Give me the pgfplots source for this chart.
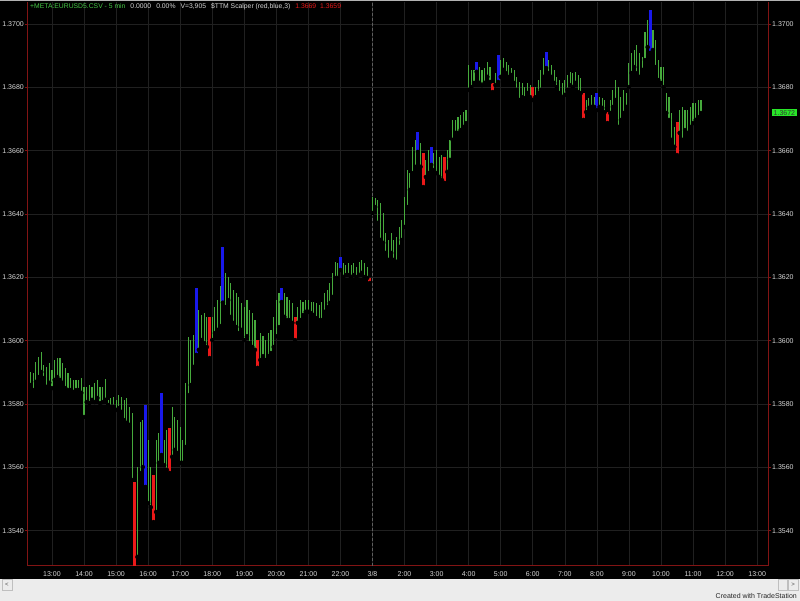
\documentclass[border=0pt]{standalone}
\usepackage{fontspec}
\setmainfont{Liberation Sans}
\usepackage{pgfplots}
\pgfplotsset{compat=1.18}
\usepackage{pgfplotstable}

\definecolor{bargreen}{RGB}{70,170,60}
\definecolor{barred}{RGB}{235,25,25}
\definecolor{barblue}{RGB}{25,25,235}
\definecolor{axisred}{RGB}{130,20,20}
\definecolor{gridgray}{RGB}{32,32,32}
\definecolor{sessiongray}{RGB}{95,95,95}
\definecolor{labelgray}{RGB}{215,215,215}
\definecolor{titlegreen}{RGB}{70,200,70}
\definecolor{markgreen}{RGB}{40,230,40}
\definecolor{stripgray}{RGB}{236,236,236}

% 5 min bars: k = bar number, lo/hi = bar low/high
\pgfplotstableread{
k lo hi
0 1.35860 1.35901
1 1.35844 1.35898
2 1.35870 1.35933
3 1.35885 1.35948
4 1.35901 1.35964
5 1.35882 1.35923
6 1.35854 1.35917
7 1.35867 1.35930
8 1.35850 1.35907
9 1.35876 1.35939
10 1.35885 1.35945
11 1.35876 1.35945
12 1.35867 1.35930
13 1.35850 1.35914
14 1.35844 1.35898
15 1.35844 1.35882
16 1.35838 1.35876
17 1.35844 1.35876
18 1.35844 1.35876
19 1.35835 1.35882
20 1.35759 1.35854
21 1.35806 1.35854
22 1.35803 1.35860
23 1.35813 1.35854
24 1.35806 1.35866
25 1.35819 1.35876
26 1.35803 1.35854
27 1.35806 1.35854
28 1.35813 1.35879
29 1.35797 1.35813
30 1.35791 1.35819
31 1.35791 1.35822
32 1.35781 1.35813
33 1.35787 1.35828
34 1.35775 1.35822
35 1.35749 1.35813
36 1.35740 1.35819
37 1.35734 1.35791
38 1.35560 1.35772
40 1.35317 1.35601
41 1.35582 1.35743
42 1.35601 1.35749
44 1.35487 1.35686
45 1.35474 1.35601
47 1.35459 1.35686
48 1.35614 1.35708
50 1.35607 1.35686
51 1.35592 1.35718
53 1.35633 1.35791
54 1.35655 1.35759
55 1.35645 1.35749
56 1.35614 1.35727
57 1.35614 1.35686
58 1.35664 1.35866
59 1.35828 1.36012
60 1.35860 1.36002
61 1.35917 1.36018
63 1.35971 1.36097
64 1.36002 1.36081
65 1.35992 1.36087
66 1.35980 1.36075
68 1.36002 1.36075
69 1.36024 1.36106
70 1.36034 1.36128
71 1.36046 1.36172
73 1.36106 1.36214
74 1.36128 1.36201
75 1.36075 1.36182
76 1.36056 1.36160
77 1.36043 1.36150
78 1.36024 1.36138
79 1.36034 1.36119
80 1.36002 1.36106
81 1.36014 1.36128
82 1.35992 1.36097
83 1.35980 1.36087
84 1.35971 1.36065
86 1.35939 1.36024
87 1.35951 1.36014
88 1.35939 1.36002
89 1.35951 1.36024
90 1.35961 1.36034
91 1.35980 1.36075
92 1.36014 1.36128
93 1.36043 1.36150
95 1.36075 1.36150
96 1.36065 1.36138
97 1.36065 1.36128
98 1.36056 1.36119
100 1.36056 1.36106
101 1.36065 1.36128
102 1.36081 1.36122
103 1.36091 1.36128
104 1.36091 1.36128
105 1.36087 1.36122
106 1.36081 1.36122
107 1.36071 1.36119
108 1.36065 1.36113
109 1.36065 1.36122
110 1.36091 1.36150
111 1.36106 1.36160
112 1.36119 1.36182
113 1.36138 1.36214
114 1.36198 1.36249
115 1.36198 1.36245
117 1.36201 1.36245
118 1.36207 1.36239
119 1.36207 1.36245
120 1.36201 1.36239
121 1.36207 1.36245
122 1.36201 1.36233
123 1.36207 1.36249
124 1.36214 1.36255
125 1.36201 1.36245
126 1.36198 1.36233
128 1.36403 1.36454
129 1.36422 1.36451
130 1.36372 1.36444
131 1.36318 1.36435
132 1.36309 1.36403
133 1.36277 1.36340
134 1.36255 1.36318
135 1.36277 1.36340
136 1.36255 1.36318
137 1.36249 1.36328
138 1.36296 1.36359
139 1.36318 1.36381
140 1.36359 1.36454
141 1.36422 1.36539
142 1.36476 1.36529
143 1.36529 1.36612
144 1.36549 1.36634
146 1.36549 1.36624
148 1.36517 1.36571
149 1.36529 1.36602
151 1.36539 1.36593
152 1.36529 1.36602
153 1.36517 1.36580
154 1.36507 1.36586
156 1.36533 1.36602
157 1.36571 1.36634
158 1.36634 1.36697
159 1.36656 1.36697
160 1.36656 1.36706
161 1.36665 1.36713
162 1.36675 1.36722
163 1.36687 1.36728
164 1.36792 1.36871
165 1.36801 1.36855
166 1.36814 1.36855
168 1.36814 1.36864
169 1.36807 1.36855
170 1.36814 1.36861
171 1.36833 1.36880
172 1.36817 1.36864
174 1.36807 1.36845
176 1.36833 1.36886
177 1.36855 1.36893
178 1.36845 1.36880
179 1.36833 1.36871
180 1.36839 1.36861
181 1.36814 1.36855
182 1.36792 1.36833
183 1.36760 1.36817
184 1.36769 1.36814
185 1.36766 1.36801
186 1.36782 1.36814
187 1.36769 1.36807
189 1.36769 1.36801
190 1.36782 1.36823
191 1.36792 1.36855
192 1.36833 1.36893
194 1.36845 1.36886
195 1.36833 1.36871
196 1.36814 1.36855
197 1.36801 1.36833
198 1.36782 1.36823
199 1.36769 1.36814
200 1.36776 1.36823
201 1.36792 1.36839
202 1.36807 1.36848
203 1.36801 1.36845
204 1.36814 1.36848
205 1.36785 1.36839
206 1.36782 1.36829
208 1.36722 1.36760
209 1.36735 1.36766
210 1.36738 1.36776
211 1.36738 1.36769
213 1.36738 1.36769
214 1.36735 1.36766
215 1.36722 1.36760
217 1.36719 1.36760
218 1.36738 1.36792
219 1.36760 1.36823
220 1.36675 1.36801
221 1.36697 1.36769
222 1.36719 1.36792
223 1.36738 1.36782
224 1.36801 1.36877
225 1.36845 1.36909
226 1.36864 1.36918
227 1.36845 1.36934
228 1.36833 1.36909
229 1.36855 1.36896
230 1.36886 1.36975
231 1.36927 1.37013
233 1.36918 1.36981
234 1.36864 1.36949
235 1.36823 1.36886
236 1.36814 1.36864
237 1.36801 1.36864
238 1.36719 1.36782
239 1.36697 1.36769
240 1.36634 1.36719
241 1.36612 1.36675
243 1.36656 1.36728
244 1.36634 1.36738
245 1.36665 1.36728
246 1.36656 1.36728
247 1.36675 1.36738
248 1.36687 1.36751
249 1.36697 1.36751
250 1.36706 1.36760
251 1.36719 1.36760
}\greenbars

\pgfplotstableread{
k lo hi
39 1.35285 1.35554
46 1.35427 1.35576
52 1.35582 1.35724
67 1.35945 1.36075
85 1.35914 1.36002
99 1.36002 1.36075
127 1.36182 1.36198
147 1.36485 1.36593
155 1.36498 1.36580
173 1.36785 1.36814
188 1.36760 1.36801
207 1.36697 1.36782
216 1.36687 1.36722
242 1.36586 1.36690
}\redbars

\pgfplotstableread{
k lo hi
43 1.35538 1.35797
49 1.35639 1.35835
62 1.35955 1.36166
72 1.36120 1.36296
94 1.36122 1.36166
116 1.36223 1.36264
145 1.36596 1.36659
150 1.36555 1.36612
167 1.36849 1.36880
175 1.36817 1.36902
193 1.36861 1.36912
212 1.36728 1.36782
232 1.36909 1.37044
}\bluebars

\pgfplotsset{
  chart/.style={
    scale only axis, width=740pt, height=564pt,
    at={(0pt,0pt)}, anchor=south west,
    xmin=-0.97, xmax=276.07, ymin=1.352884, ymax=1.370695,
    ytick={1.354,1.356,1.358,1.360,1.362,1.364,1.366,1.368,1.370},
    yticklabels={1.3540,1.3560,1.3580,1.3600,1.3620,1.3640,1.3660,1.3680,1.3700},
    xtick={8,20,32,44,56,68,80,92,104,116,128,140,152,164,176,188,200,212,224,236,248,260,272},
    xticklabels={13:00,14:00,15:00,16:00,17:00,18:00,19:00,20:00,21:00,22:00,3/8,2:00,3:00,4:00,5:00,6:00,7:00,8:00,9:00,10:00,11:00,12:00,13:00},
    tick label style={font=\fontsize{7}{8}\selectfont, text=labelgray},
    axis line style={draw=axisred, line width=1pt},
    tick align=outside, major tick length=3pt,
    ytick style={draw=axisred, line width=0.6pt},
    xtick style={draw=none},
    yticklabel style={inner sep=1pt},
    separate axis lines,
  },
  hl/.style 2 args={only marks, mark=none, forget plot,
    error bars/.cd, y dir=plus, y explicit, error mark=none,
    error bar style={draw=#1, line width=#2}},
}

\begin{document}
\begin{tikzpicture}[x=1pt,y=1pt]
\path[use as bounding box] (-28,-35) rectangle (772,566);
\fill[black] (-28,-13) rectangle (772,566);
\fill[stripgray] (-28,-35) rectangle (772,-13);
\fill[gray!60] (-28,565) rectangle (772,566);

\begin{axis}[chart,
    axis x line*=bottom, axis y line*=left,
    grid=major, major grid style={draw=gridgray, line width=0.6pt},
    xticklabel style={yshift=1pt}]
  \draw[densely dashed, draw=sessiongray, line width=0.6pt] (128,1.352884) -- (128,1.370695);
  \addplot[hl={bargreen}{1.1pt}]
    table[x=k, y=lo, y error expr=\thisrow{hi}-\thisrow{lo}] {\greenbars};
  \addplot[hl={barred}{3pt}]
    table[x=k, y=lo, y error expr=\thisrow{hi}-\thisrow{lo}] {\redbars};
  \addplot[hl={barblue}{3pt}]
    table[x=k, y=lo, y error expr=\thisrow{hi}-\thisrow{lo}] {\bluebars};
\end{axis}

\begin{axis}[chart,
    axis x line=none, axis y line*=right,
    yticklabel pos=right]
  \addplot[draw=none, forget plot] coordinates {(0,1.36)};
\end{axis}

% header line
\node[anchor=west, inner sep=0pt, font=\fontsize{6.8}{7}\selectfont] at (2,559)
  {\textcolor{titlegreen}{+META:EURUSD5.CSV - 5 min}\hspace{5pt}%
   \textcolor{labelgray}{0.0000\hspace{5pt}0.00\%\hspace{5pt}V=3,905\hspace{5pt}\$TTM Scalper (red,blue,3)}\hspace{5pt}%
   \textcolor{barred}{1.3669\hspace{4pt}1.3659}};

% last price marker
\node[anchor=west, fill=markgreen, text=black!80, inner xsep=1.5pt, inner ysep=1pt,
      font=\fontsize{7}{8}\selectfont] at (744,453.3) {1.3672};

% scroll bar strip and footer
\draw[gray!50, fill=gray!15] (-26,-13.5) rectangle (-16,-24);
\node[font=\fontsize{6}{7}\selectfont, text=black!70] at (-21,-18.7) {<};
\draw[gray!50, fill=gray!15] (750,-13.5) rectangle (759,-24);
\draw[gray!50, fill=gray!15] (760,-13.5) rectangle (770,-24);
\node[font=\fontsize{6}{7}\selectfont, text=black!70] at (765,-18.7) {>};
\node[anchor=east, inner sep=0pt, font=\fontsize{7}{8}\selectfont, text=black!85] at (769,-30) {Created with TradeStation};
\end{tikzpicture}
\end{document}
